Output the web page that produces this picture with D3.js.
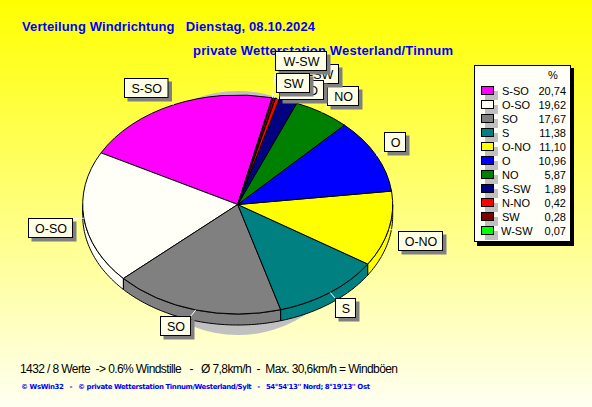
<!DOCTYPE html>
<html><head><meta charset="utf-8">
<script src="https://cdn.jsdelivr.net/npm/d3@7"></script>
<style>html,body{margin:0;padding:0;background:#fff}svg{display:block}text{white-space:pre;font-family:"Liberation Sans",Arial,sans-serif}</style>
</head><body><div id="c"></div>
<script>
const categories=["S-SO","O-SO","SO","S","O-NO","O","NO","S-SW","N-NO","SW","W-SW"];
const percents=[20.74,19.62,17.67,11.38,11.10,10.96,5.87,1.89,0.42,0.28,0.07];
const percentLabels=["20,74","19,62","17,67","11,38","11,10","10,96","5,87","1,89","0,42","0,28","0,07"];
const sliceColors=["#ff00ff","#fffff8","#808080","#008080","#ffff00","#0000ff","#008000","#000080","#ff0000","#800000","#00ff00"];
const titleLine1="Verteilung Windrichtung   Dienstag, 08.10.2024";
const titleLine2="private Wetterstation Westerland/Tinnum";
const footer1="1432 / 8 Werte  -> 0.6% Windstille   -   Ø 7,8km/h  -  Max. 30,6km/h = Windböen";
const footer2="© WsWin32   -   © private Wetterstation Tinnum/Westerland/Sylt   -   54°54'13'' Nord; 8°19'13'' Ost";

// layout
const W=592,H=407,cx=237.7,cy=204.5,rx=155,ry=109.5,depth=11;
const startDeg=12.8;
const labelBoxes={"S-SO":[124.5,78.5,43.5,19],"O-SO":[28.5,218.5,44,19],"SO":[160.5,316.5,30,19],"S":[335.5,298.5,20,19],
"O-NO":[398.5,231.5,44,19],"O":[384.5,132.5,21,19],"NO":[327.5,86.5,31,19],"S-SW":[294.5,64.5,44,19],"N-NO":[279.5,80.5,44,19],
"SW":[276.5,73.5,33,19],"W-SW":[275.5,51.5,51,19]};
const labelOrder=["S-SO","O-SO","SO","S","O-NO","O","NO","S-SW","N-NO","W-SW","SW"];

const svg=d3.select("#c").append("svg").attr("width",W).attr("height",H);
const grad=svg.append("defs").append("linearGradient").attr("id","bg").attr("x1",0).attr("y1",0).attr("x2",0).attr("y2",1);
grad.append("stop").attr("offset",0).attr("stop-color","#ffff00");
grad.append("stop").attr("offset",1).attr("stop-color","#fffff2");
svg.append("rect").attr("width",W).attr("height",H).attr("fill","url(#bg)");

const T=svg.append("g").attr("fill","#0000ff").attr("font-weight","bold").attr("font-size",13);
T.append("text").attr("x",22).attr("y",31).attr("textLength",293).text(titleLine1);
T.append("text").attr("x",193).attr("y",55).attr("textLength",260).text(titleLine2);

// gray shadow behind pie
svg.append("circle").attr("cx",238).attr("cy",213).attr("r",122).attr("fill","#c0c0c0");

const rad=Math.PI/180;
const pie=d3.pie().sortValues(null).startAngle(startDeg*rad).endAngle((startDeg-360)*rad);
const arcs=pie(percents);
const pt=(a,dy=0)=>[cx+rx*Math.sin(a),cy+dy-ry*Math.cos(a)];
const line=d3.line();

// side walls
const wallG=svg.append("g").attr("stroke","#000").attr("stroke-width",1).attr("stroke-linejoin","round");
arcs.forEach((d,i)=>{
  let a0=Math.min(d.startAngle,d.endAngle)/rad,a1=Math.max(d.startAngle,d.endAngle)/rad;
  while(a1<90){a0+=360;a1+=360}
  const lo=Math.max(a0,90),hi=Math.min(a1,270);
  if(hi<=lo) return;
  const ts=d3.range(lo,hi,1).concat([hi]).map(v=>v*rad);
  const outer=ts.map(t=>pt(t,0)).concat(ts.slice().reverse().map(t=>pt(t,depth)));
  wallG.append("path").attr("d",line(outer)+"Z").attr("fill",sliceColors[i]);
});

// top faces
const arc=d3.arc().innerRadius(0).outerRadius(rx);
svg.append("g").attr("transform",`translate(${cx},${cy}) scale(1,${ry/rx})`)
 .selectAll("path").data(arcs).join("path").attr("d",arc)
 .attr("fill",(d,i)=>sliceColors[i]).attr("stroke","#000").attr("stroke-width",1)
 .attr("vector-effect","non-scaling-stroke");

// leaders
const lead=svg.append("g").attr("stroke","#fff").attr("stroke-width",1);
arcs.forEach((d,i)=>{
  const b=labelBoxes[categories[i]],p=pt((d.startAngle+d.endAngle)/2);
  const q=[Math.max(b[0],Math.min(b[0]+b[2],p[0])),Math.max(b[1],Math.min(b[1]+b[3],p[1]))];
  lead.append("line").attr("x1",p[0]).attr("y1",p[1]).attr("x2",q[0]).attr("y2",q[1]);
});

// labels
labelOrder.forEach(n=>{
  const b=labelBoxes[n],g=svg.append("g");
  g.append("rect").attr("x",b[0]+3).attr("y",b[1]+3).attr("width",b[2]+1).attr("height",b[3]+1).attr("fill","#808080");
  g.append("rect").attr("x",b[0]).attr("y",b[1]).attr("width",b[2]).attr("height",b[3]).attr("fill","#ffffe6").attr("stroke","#000");
  g.append("text").attr("x",b[0]+b[2]/2+.5).attr("y",b[1]+14.5).attr("text-anchor","middle").attr("font-size",12.5).attr("fill","#000").text(n);
});

// legend
const L=svg.append("g");
L.append("rect").attr("x",477).attr("y",68).attr("width",97).attr("height",178).attr("fill","#000");
L.append("rect").attr("x",474.5).attr("y",65.5).attr("width",96).attr("height",176).attr("fill","#fffff8").attr("stroke","#000");
L.append("text").attr("x",553).attr("y",79).attr("text-anchor","middle").attr("font-size",11).text("%");
const yRow=d3.scalePoint().domain(categories).range([91,231]);
categories.forEach((c,i)=>{
  const y=yRow(c);
  L.append("rect").attr("x",485).attr("y",y).attr("width",13).attr("height",9).attr("fill","#c0c0c0");
  L.append("rect").attr("x",481.5).attr("y",y-4.5).attr("width",12).attr("height",8).attr("fill",sliceColors[i]).attr("stroke","#000");
  L.append("text").attr("x",c==="W-SW"?501:502).attr("y",y+4).attr("font-size",11).text(c);
  L.append("text").attr("x",566).attr("y",y+4).attr("text-anchor","end").attr("font-size",11).text(percentLabels[i]);
});

// footer
svg.append("text").attr("x",20).attr("y",373).attr("font-size",12).attr("textLength",378).text(footer1);
svg.append("text").attr("x",21).attr("y",389).attr("font-size",7).attr("font-weight","bold").attr("fill","#0000ff")
  .style("font-family","'DejaVu Sans',sans-serif").attr("textLength",349).text(footer2);
</script></body></html>
